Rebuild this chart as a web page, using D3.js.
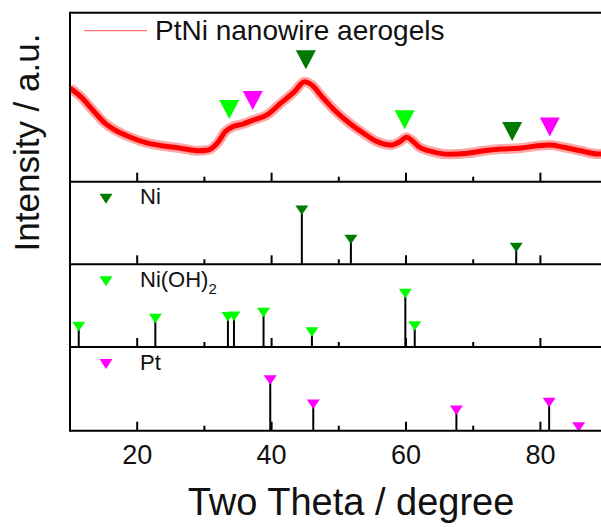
<!DOCTYPE html>
<html>
<head>
<meta charset="utf-8">
<script src="https://cdn.jsdelivr.net/npm/d3@7"></script>
<style>
  html, body { margin: 0; padding: 0; background: #fff; }
  svg { display: block; font-family: "Liberation Sans", Arial, sans-serif; }
</style>
</head>
<body>
<svg id="chart" width="601" height="527"></svg>
<script>
// XRD pattern of the aerogel (two theta in degrees, intensity in a.u.)
const patternTheta = [10, 11.6, 13.6, 15.2, 16.7, 18.8, 21.3, 23.9, 26.5, 29, 30.6, 32.1, 33.1, 34.2,
  35.7, 37.3, 39.3, 41.4, 43.4, 44.9, 46, 47.5, 49.6, 51.6, 53.7, 55.7, 57.8, 59.1, 60.1, 60.8,
  61.9, 63.9, 66.5, 69.1, 71.6, 74.2, 76.8, 79.3, 81.4, 83.4, 86, 88.6, 90.3];
const patternIntensity = [554, 503, 414, 347, 306, 266, 231, 211, 198, 183, 188, 237, 296, 325,
  341, 365, 395, 466, 533, 592, 572, 503, 414, 346, 286, 237, 217, 237, 263, 247,
  207, 178, 162, 168, 183, 193, 198, 211, 217, 204, 183, 164, 170];

// Phase markers placed above the pattern
const markerTheta = [33.7, 37.2, 45.1, 59.8, 75.8, 81.4];
const markerLevel = [427, 481, 722, 367, 297, 323];
const markerPhase = ["Ni(OH)2", "Pt", "Ni", "Ni(OH)2", "Ni", "Pt"];

// Reference line positions and relative intensities
const niTheta = [44.5, 51.8, 76.4];
const niIntensity = [100, 46, 31];
const nioh2Theta = [11.3, 22.7, 33.5, 34.4, 38.8, 46.0, 59.9, 61.3];
const nioh2Intensity = [38, 53, 56, 57, 64, 28, 99, 39];
const ptTheta = [39.8, 46.2, 67.5, 81.3, 85.7];
const ptIntensity = [94, 49, 38, 52, 7];

const phaseColor = { "Ni": "#007a00", "Ni(OH)2": "#00ff00", "Pt": "#ff00ff" };

const xTicks = [20, 30, 40, 50, 60, 70, 80];
const xTickLabels = ["20", "", "40", "", "60", "", "80"];

const svg = d3.select("#chart");
const left = 70, right = 607.6;
const x = d3.scaleLinear().domain([10, 90]).range([left, right]);

// Panel frames (top pattern + three reference panels)
const panels = [
  { key: "pattern", top: 12.7, bottom: 181.7 },
  { key: "Ni", top: 181.7, bottom: 264.3 },
  { key: "Ni(OH)2", top: 264.3, bottom: 347 },
  { key: "Pt", top: 347, bottom: 430.7 }
];

const yPattern = d3.scaleLinear().domain([0, 1000]).range([panels[0].bottom, panels[0].top]);

function downTriangle(cx, cy, w, h) {
  return `M${cx - w / 2},${cy - h / 2}L${cx + w / 2},${cy - h / 2}L${cx},${cy + h / 2}Z`;
}

// Pattern trace
const patternData = patternTheta.map((t, i) => [t, patternIntensity[i]]);
const line = d3.line()
  .x(d => x(d[0]))
  .y(d => yPattern(d[1]))
  .curve(d3.curveMonotoneX);

const clip = svg.append("clipPath").attr("id", "plotClip")
  .append("rect").attr("x", left).attr("y", panels[0].top)
  .attr("width", right - left).attr("height", panels[0].bottom - panels[0].top);

const traceG = svg.append("g").attr("clip-path", "url(#plotClip)");
traceG.append("path").datum(patternData)
  .attr("d", line).attr("fill", "none")
  .attr("stroke", "#ff0000").attr("stroke-opacity", 0.35)
  .attr("stroke-width", 10).attr("stroke-linejoin", "round");
traceG.append("path").datum(patternData)
  .attr("d", line).attr("fill", "none")
  .attr("stroke", "#ff0000").attr("stroke-width", 5).attr("stroke-linejoin", "round");

// Markers on the pattern
svg.append("g").selectAll("path")
  .data(markerTheta.map((t, i) => ({ t, v: markerLevel[i], p: markerPhase[i] })))
  .join("path")
  .attr("d", d => downTriangle(x(d.t), yPattern(d.v), 20, 19))
  .attr("fill", d => phaseColor[d.p]);

// Legend of the pattern panel
svg.append("line").attr("x1", 84).attr("x2", 147).attr("y1", 30.7).attr("y2", 30.7)
  .attr("stroke", "#ff0000").attr("stroke-opacity", 0.55).attr("stroke-width", 1.2);
svg.append("text").attr("x", 155).attr("y", 39.5)
  .attr("font-size", 28).attr("fill", "#111").text("PtNi nanowire aerogels");

// Reference stick panels
const refSets = [
  { panel: panels[1], theta: niTheta, inten: niIntensity, phase: "Ni" },
  { panel: panels[2], theta: nioh2Theta, inten: nioh2Intensity, phase: "Ni(OH)2" },
  { panel: panels[3], theta: ptTheta, inten: ptIntensity, phase: "Pt" }
];

refSets.forEach(s => {
  const y = d3.scaleLinear().domain([0, 100]).range([s.panel.bottom, s.panel.bottom - 54]);
  const g = svg.append("g");
  const pts = s.theta.map((t, i) => ({ t, v: s.inten[i] }));
  g.selectAll("line.stem").data(pts).join("line")
    .attr("class", "stem")
    .attr("x1", d => x(d.t)).attr("x2", d => x(d.t))
    .attr("y1", y(0)).attr("y2", d => y(d.v))
    .attr("stroke", "#000").attr("stroke-width", 2);
  g.selectAll("path.mk").data(pts).join("path")
    .attr("class", "mk")
    .attr("d", d => downTriangle(x(d.t), y(d.v), 13, 9.5))
    .attr("fill", phaseColor[s.phase]);

  // legend entry
  const ly = s.panel.top + 17;
  g.append("path").attr("d", downTriangle(106, ly, 13, 10)).attr("fill", phaseColor[s.phase]);
  const txt = g.append("text").attr("x", 140).attr("y", ly + 5.5)
    .attr("font-size", 22).attr("fill", "#111");
  if (s.phase === "Ni(OH)2") {
    txt.append("tspan").text("Ni(OH)");
    txt.append("tspan").attr("font-size", 15).attr("dy", 7).text("2");
  } else {
    txt.text(s.phase);
  }
});

// Frames and inward ticks
panels.forEach(p => {
  const g = svg.append("g");
  g.selectAll("line.tick").data(xTicks).join("line")
    .attr("class", "tick")
    .attr("x1", d => x(d)).attr("x2", d => x(d))
    .attr("y1", p.bottom)
    .attr("y2", (d, i) => p.bottom - (xTickLabels[i] ? 9 : 5))
    .attr("stroke", "#000").attr("stroke-width", 2);
  g.append("line").attr("x1", left).attr("x2", right + 2)
    .attr("y1", p.bottom).attr("y2", p.bottom)
    .attr("stroke", "#000").attr("stroke-width", 2);
});
svg.append("line").attr("x1", left).attr("x2", right + 2)
  .attr("y1", panels[0].top).attr("y2", panels[0].top)
  .attr("stroke", "#000").attr("stroke-width", 2);
svg.append("line").attr("x1", left).attr("x2", left)
  .attr("y1", panels[0].top - 1).attr("y2", panels[3].bottom + 1)
  .attr("stroke", "#000").attr("stroke-width", 2);
svg.append("line").attr("x1", right).attr("x2", right)
  .attr("y1", panels[0].top - 1).attr("y2", panels[3].bottom + 1)
  .attr("stroke", "#000").attr("stroke-width", 2);

// Bottom tick labels
svg.append("g").selectAll("text").data(xTicks.filter((d, i) => xTickLabels[i]))
  .join("text")
  .attr("x", d => x(d)).attr("y", 464)
  .attr("text-anchor", "middle").attr("font-size", 27).attr("fill", "#111")
  .text(d => xTickLabels[xTicks.indexOf(d)]);

// Axis titles
svg.append("text").attr("x", 351).attr("y", 514.5)
  .attr("text-anchor", "middle").attr("font-size", 38).attr("fill", "#111")
  .text("Two Theta / degree");
svg.append("text")
  .attr("transform", "translate(39,142.5) rotate(-90)")
  .attr("text-anchor", "middle").attr("font-size", 35).attr("fill", "#111")
  .text("Intensity / a.u.");
</script>
</body>
</html>
